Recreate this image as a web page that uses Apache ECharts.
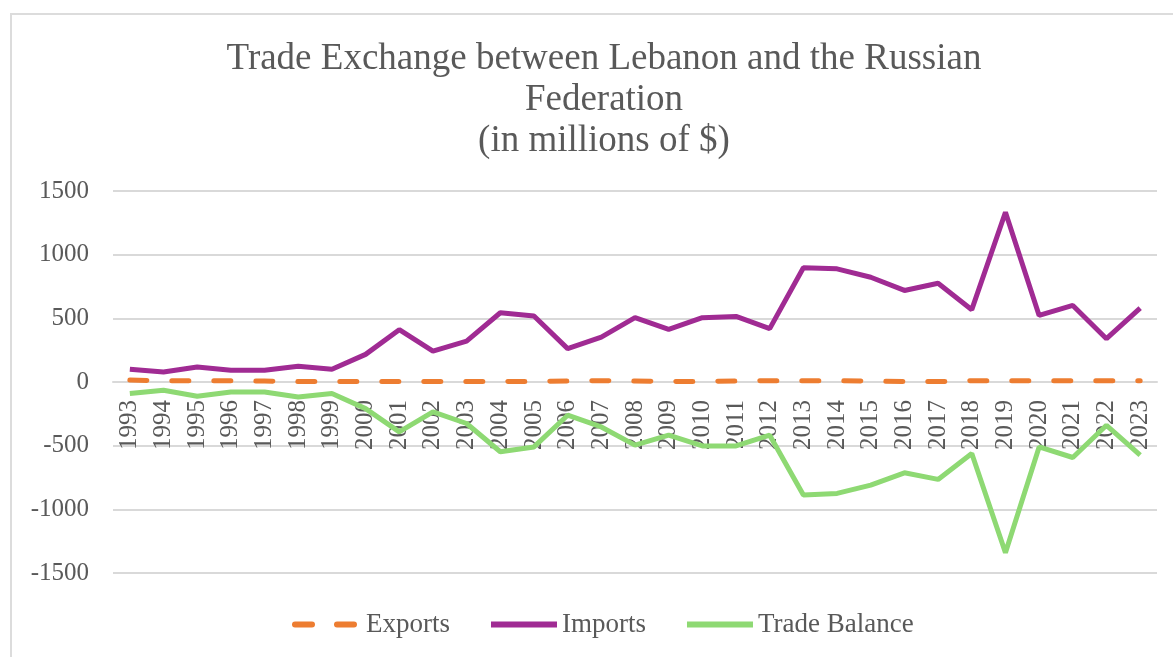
<!DOCTYPE html>
<html>
<head>
<meta charset="utf-8">
<script src="https://cdn.jsdelivr.net/npm/echarts@6/dist/echarts.min.js"></script>
<style>
  html, body { margin: 0; padding: 0; background: #fff; }
  .frame {
    position: absolute; left: 10px; top: 13px;
    width: 1200px; height: 700px;
    border: 2px solid #dcdcdc;
  }
  #chartLine {
    position: absolute; left: 0; top: 0;
    width: 1173px; height: 657px;
  }
</style>
</head>
<body>
<div class="frame"></div>
<div id="chartLine"></div>
<script>
// years on the x axis
const years = ['1993','1994','1995','1996','1997','1998','1999','2000','2001','2002',
  '2003','2004','2005','2006','2007','2008','2009','2010','2011','2012',
  '2013','2014','2015','2016','2017','2018','2019','2020','2021','2022','2023'];

// values in millions of $
const exportsData = [15, 10, 10, 10, 8, 3, 3, 3, 3, 3,
  3, 3, 5, 8, 10, 8, 3, 5, 8, 10,
  10, 10, 8, 3, 3, 10, 10, 10, 10, 10, 10];
const importsData = [100, 78, 118, 92, 92, 123, 100, 217, 411, 243,
  321, 544, 518, 262, 353, 505, 413, 505, 515, 419,
  897, 889, 823, 719, 776, 568, 1333, 523, 601, 340, 580];
const balanceData = [-91, -65, -112, -78, -78, -118, -91, -209, -392, -235,
  -326, -548, -510, -261, -353, -496, -418, -502, -502, -418,
  -888, -875, -810, -713, -765, -562, -1341, -510, -593, -340, -575];

const yTicks = { min: -1500, max: 1500, step: 500 };

const textColor = '#595959';
const font = 'Liberation Serif, Times New Roman, serif';

const chartLine = echarts.init(document.getElementById('chartLine'));

let option = {
  animation: false,
  title: {
    text: 'Trade Exchange between Lebanon and the Russian\nFederation\n(in millions of $)',
    left: 599,
    top: 34,
    textAlign: 'center',
    textStyle: {
      fontFamily: font,
      fontSize: 37,
      fontWeight: 'normal',
      color: textColor,
      lineHeight: 41
    }
  },
  legend: {
    data: ['Exports', 'Imports', 'Trade Balance'],
    bottom: 14,
    left: 287,
    itemWidth: 66,
    itemHeight: 14,
    itemGap: 38,
    itemStyle: { opacity: 0 },
    lineStyle: { width: 6 },
    textStyle: { fontFamily: font, fontSize: 27, color: textColor }
  },
  grid: { left: 113, right: 16, top: 191, bottom: 84, containLabel: false },
  xAxis: {
    type: 'category',
    boundaryGap: true,
    data: years,
    // the axis sits on the zero line
    offset: -191,
    axisLine: { onZero: false, lineStyle: { color: '#d9d9d9', width: 2 } },
    axisTick: { show: false },
    axisLabel: {
      rotate: 90,
      margin: 18,
      interval: 0,
      fontFamily: font,
      fontSize: 25,
      color: textColor
    }
  },
  yAxis: {
    type: 'value',
    min: yTicks.min,
    max: yTicks.max,
    interval: yTicks.step,
    axisLine: { show: false },
    axisTick: { show: false },
    splitLine: { lineStyle: { color: '#d9d9d9', width: 2 } },
    axisLabel: {
      margin: 24,
      fontFamily: font,
      fontSize: 25,
      color: textColor,
      formatter: v => String(v)
    }
  },
  series: [
    {
      name: 'Exports',
      type: 'line',
      symbol: 'none',
      data: exportsData,
      itemStyle: { color: '#ED7D31' },
      lineStyle: { color: '#ED7D31', width: 5, type: [17, 25], cap: 'round' },
      z: 3
    },
    {
      name: 'Imports',
      type: 'line',
      symbol: 'none',
      data: importsData,
      itemStyle: { color: '#A02B93' },
      lineStyle: { color: '#A02B93', width: 5 },
      z: 4
    },
    {
      name: 'Trade Balance',
      type: 'line',
      symbol: 'none',
      data: balanceData,
      itemStyle: { color: '#8ED973' },
      lineStyle: { color: '#8ED973', width: 5 },
      z: 5
    }
  ]
};
chartLine.setOption(option, true);
</script>
</body>
</html>
